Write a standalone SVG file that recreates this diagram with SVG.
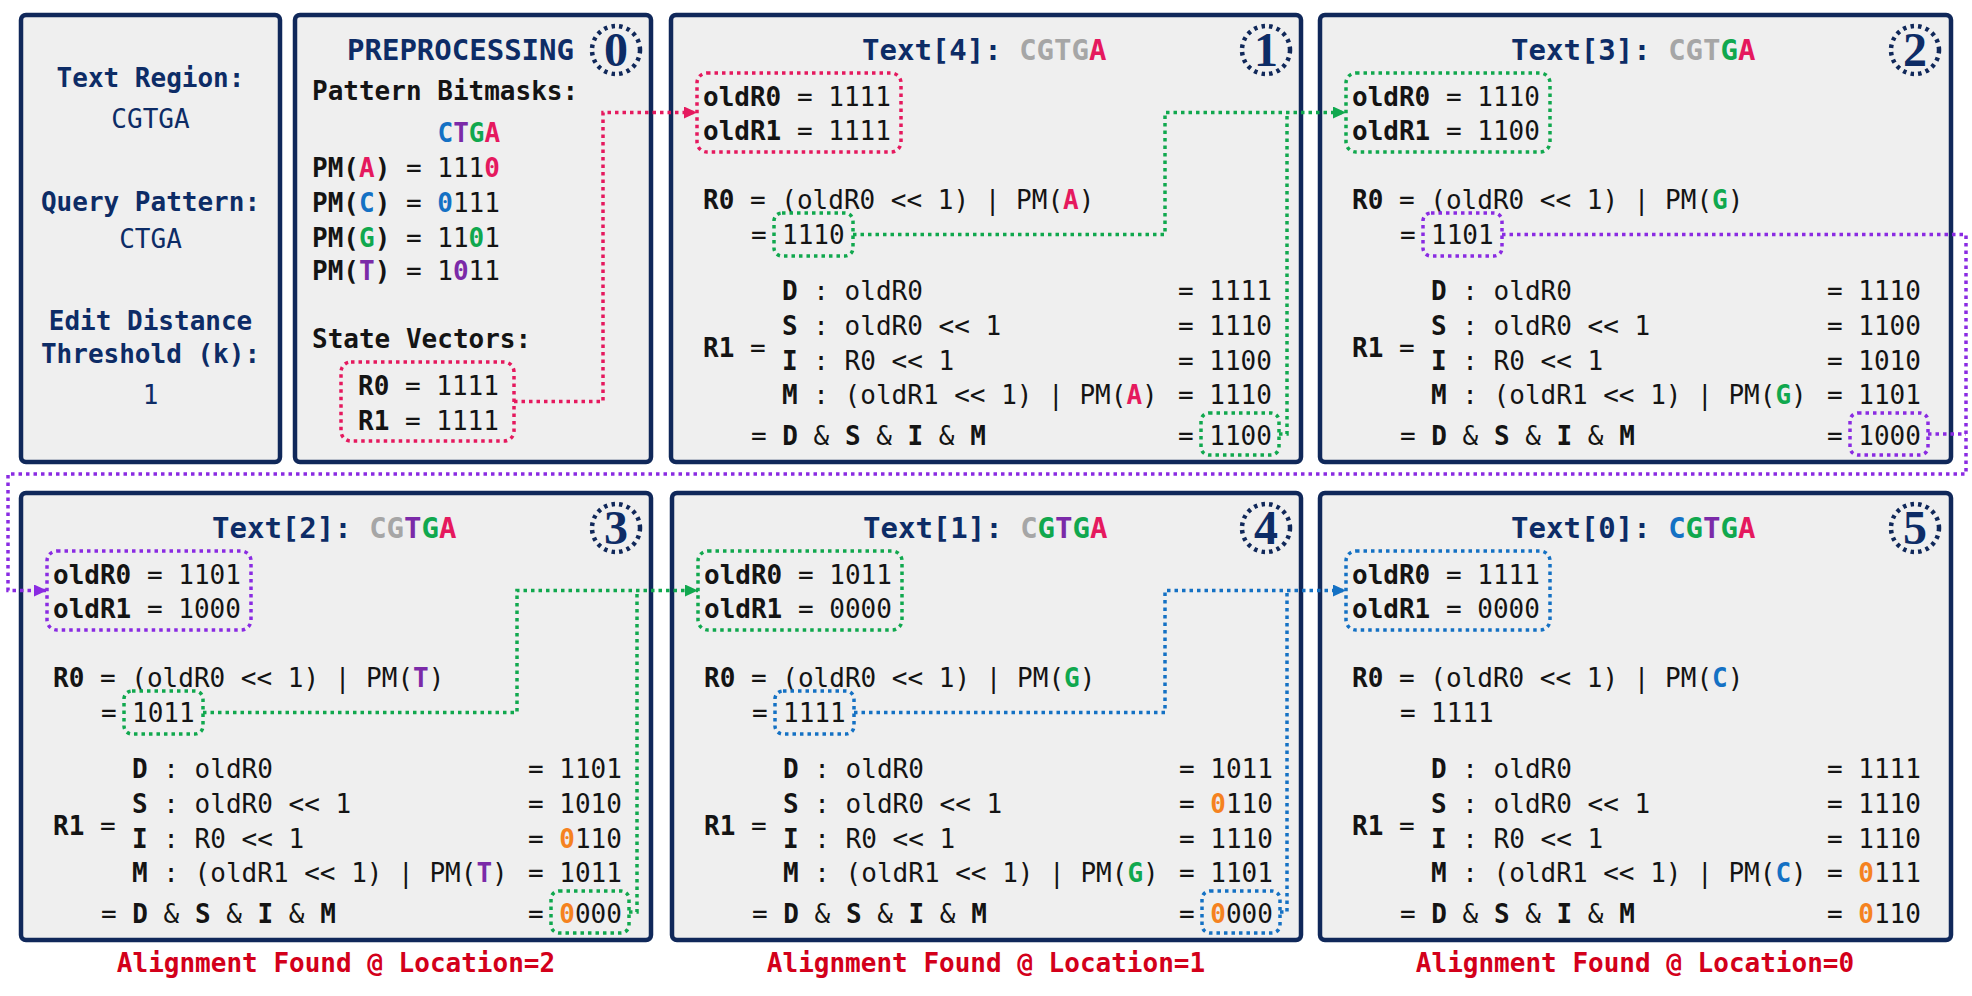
<svg xmlns="http://www.w3.org/2000/svg" width="1972" height="996" viewBox="0 0 1972 996">
<style>
.bg{fill:#ffffff}
.panel{fill:#efefef;stroke:#10285a;stroke-width:4.5}
.t{font-family:"DejaVu Sans Mono","Liberation Mono",monospace;font-size:26px;fill:#141414}
.b{font-weight:bold}
.nv{fill:#0d2c66}
.ttl{font-family:"DejaVu Sans Mono","Liberation Mono",monospace;font-size:29px;font-weight:bold;fill:#0d2c66}
.pk{fill:#e5195e;font-weight:bold}
.bl{fill:#1471c4;font-weight:bold}
.gr{fill:#10a84e;font-weight:bold}
.pu{fill:#7b2aa8;font-weight:bold}
.or{fill:#f5821f;font-weight:bold}
.gy{fill:#a6a6a6}
.red{font-family:"DejaVu Sans Mono","Liberation Mono",monospace;font-size:26px;font-weight:bold;fill:#d3001a}
.dot{fill:none;stroke-width:3.5;stroke-dasharray:3.5 4}
.num{fill:none;stroke:#10285a;stroke-width:4.5;stroke-dasharray:3.5 4.2}
.cn{font-family:"Liberation Serif","DejaVu Serif",serif;font-size:48px;font-weight:bold;fill:#0d2c66;text-anchor:middle}
.spk{stroke:#e5195e}
.sgr{stroke:#10a84e}
.spu{stroke:#8a2be2}
.sbl{stroke:#1471c4}
.mid{text-anchor:middle}
</style>
<defs>
<marker id="aPk" markerUnits="userSpaceOnUse" markerWidth="13" markerHeight="12" refX="13" refY="6" orient="auto"><path d="M0,0 L13,6 L0,12 z" fill="#e5195e"/></marker>
<marker id="aGr" markerUnits="userSpaceOnUse" markerWidth="13" markerHeight="12" refX="13" refY="6" orient="auto"><path d="M0,0 L13,6 L0,12 z" fill="#10a84e"/></marker>
<marker id="aPu" markerUnits="userSpaceOnUse" markerWidth="13" markerHeight="12" refX="13" refY="6" orient="auto"><path d="M0,0 L13,6 L0,12 z" fill="#8a2be2"/></marker>
<marker id="aBl" markerUnits="userSpaceOnUse" markerWidth="13" markerHeight="12" refX="13" refY="6" orient="auto"><path d="M0,0 L13,6 L0,12 z" fill="#1471c4"/></marker>
</defs>
<rect class="bg" x="0" y="0" width="1972" height="996"/>

<g id="info">
<rect class="panel" x="21" y="15" width="259" height="447" rx="5"/>
<text class="t nv b mid" x="150.5" y="87">Text Region:</text>
<text class="t nv mid" x="150.5" y="128">CGTGA</text>
<text class="t nv b mid" x="150.5" y="211">Query Pattern:</text>
<text class="t nv mid" x="150.5" y="248">CTGA</text>
<text class="t nv b mid" x="150.5" y="330">Edit Distance</text>
<text class="t nv b mid" x="150.5" y="363">Threshold (k):</text>
<text class="t nv mid" x="150.5" y="404">1</text>
</g>

<g id="step0">
<rect class="panel" x="295" y="15" width="356" height="447" rx="5"/>
<text class="ttl" x="347" y="60">PREPROCESSING</text>
<circle class="num" cx="616" cy="50" r="24"/>
<text class="cn" x="616" y="66">0</text>
<text class="t b" x="312" y="100">Pattern Bitmasks:</text>
<text class="t b" x="437.5" y="142"><tspan class="bl">C</tspan><tspan class="pu">T</tspan><tspan class="gr">G</tspan><tspan class="pk">A</tspan></text>
<text class="t" x="312" y="177"><tspan class="b">PM(</tspan><tspan class="pk">A</tspan><tspan class="b">)</tspan> = 111<tspan class="pk">0</tspan></text>
<text class="t" x="312" y="212"><tspan class="b">PM(</tspan><tspan class="bl">C</tspan><tspan class="b">)</tspan> = <tspan class="bl">0</tspan>111</text>
<text class="t" x="312" y="246.5"><tspan class="b">PM(</tspan><tspan class="gr">G</tspan><tspan class="b">)</tspan> = 11<tspan class="gr">0</tspan>1</text>
<text class="t" x="312" y="280"><tspan class="b">PM(</tspan><tspan class="pu">T</tspan><tspan class="b">)</tspan> = 1<tspan class="pu">0</tspan>11</text>
<text class="t b" x="312" y="348">State Vectors:</text>
<rect class="dot spk" x="341" y="362" width="173" height="79" rx="10"/>
<text class="t" x="358" y="394.5"><tspan class="b">R0</tspan> = 1111</text>
<text class="t" x="358" y="429.5"><tspan class="b">R1</tspan> = 1111</text>
</g>

<g id="step1" transform="translate(671,15)">
<rect class="panel" x="0" y="0" width="630" height="447" rx="5"/>
<text class="ttl" x="191" y="45">Text[4]: <tspan class="gy">CGTG</tspan><tspan class="pk">A</tspan></text>
<circle class="num" cx="595" cy="35" r="24"/>
<text class="cn" x="595" y="51">1</text>
<rect class="dot spk" x="26" y="58" width="204" height="79" rx="10"/>
<text class="t" x="32" y="91"><tspan class="b">oldR0</tspan> = 1111</text>
<text class="t" x="32" y="125"><tspan class="b">oldR1</tspan> = 1111</text>
<text class="t" x="32" y="194"><tspan class="b">R0</tspan> = (oldR0 &lt;&lt; 1) | PM(<tspan class="pk">A</tspan>)</text>
<text class="t" x="80" y="229">=</text><text class="t" x="111" y="229">1110</text>
<rect class="dot sgr" x="103" y="198" width="79" height="43" rx="8"/>
<text class="t" x="111" y="285"><tspan class="b">D</tspan> : oldR0</text><text class="t" x="507" y="285">= 1111</text>
<text class="t" x="111" y="320"><tspan class="b">S</tspan> : oldR0 &lt;&lt; 1</text><text class="t" x="507" y="320">= 1110</text>
<text class="t b" x="32" y="342">R1 <tspan font-weight="normal">=</tspan></text>
<text class="t" x="111" y="355"><tspan class="b">I</tspan> : R0 &lt;&lt; 1</text><text class="t" x="507" y="355">= 1100</text>
<text class="t" x="111" y="389"><tspan class="b">M</tspan> : (oldR1 &lt;&lt; 1) | PM(<tspan class="pk">A</tspan>)</text><text class="t" x="507" y="389">= 1110</text>
<text class="t" x="80" y="430">= <tspan class="b">D</tspan> &amp; <tspan class="b">S</tspan> &amp; <tspan class="b">I</tspan> &amp; <tspan class="b">M</tspan></text><text class="t" x="507" y="430">= 1100</text>
<rect class="dot sgr" x="530" y="398" width="78" height="42" rx="8"/>
</g>

<g id="step2" transform="translate(1320,15)">
<rect class="panel" x="0" y="0" width="631" height="447" rx="5"/>
<text class="ttl" x="191" y="45">Text[3]: <tspan class="gy">CGT</tspan><tspan class="gr">G</tspan><tspan class="pk">A</tspan></text>
<circle class="num" cx="595" cy="35" r="24"/>
<text class="cn" x="595" y="51">2</text>
<rect class="dot sgr" x="26" y="58" width="204" height="79" rx="10"/>
<text class="t" x="32" y="91"><tspan class="b">oldR0</tspan> = 1110</text>
<text class="t" x="32" y="125"><tspan class="b">oldR1</tspan> = 1100</text>
<text class="t" x="32" y="194"><tspan class="b">R0</tspan> = (oldR0 &lt;&lt; 1) | PM(<tspan class="gr">G</tspan>)</text>
<text class="t" x="80" y="229">=</text><text class="t" x="111" y="229">1101</text>
<rect class="dot spu" x="103" y="198" width="79" height="43" rx="8"/>
<text class="t" x="111" y="285"><tspan class="b">D</tspan> : oldR0</text><text class="t" x="507" y="285">= 1110</text>
<text class="t" x="111" y="320"><tspan class="b">S</tspan> : oldR0 &lt;&lt; 1</text><text class="t" x="507" y="320">= 1100</text>
<text class="t b" x="32" y="342">R1 <tspan font-weight="normal">=</tspan></text>
<text class="t" x="111" y="355"><tspan class="b">I</tspan> : R0 &lt;&lt; 1</text><text class="t" x="507" y="355">= 1010</text>
<text class="t" x="111" y="389"><tspan class="b">M</tspan> : (oldR1 &lt;&lt; 1) | PM(<tspan class="gr">G</tspan>)</text><text class="t" x="507" y="389">= 1101</text>
<text class="t" x="80" y="430">= <tspan class="b">D</tspan> &amp; <tspan class="b">S</tspan> &amp; <tspan class="b">I</tspan> &amp; <tspan class="b">M</tspan></text><text class="t" x="507" y="430">= 1000</text>
<rect class="dot spu" x="530" y="398" width="78" height="42" rx="8"/>
</g>

<g id="step3" transform="translate(21,493)">
<rect class="panel" x="0" y="0" width="630" height="447" rx="5"/>
<text class="ttl" x="191" y="45">Text[2]: <tspan class="gy">CG</tspan><tspan class="pu">T</tspan><tspan class="gr">G</tspan><tspan class="pk">A</tspan></text>
<circle class="num" cx="595" cy="35" r="24"/>
<text class="cn" x="595" y="51">3</text>
<rect class="dot spu" x="26" y="58" width="204" height="79" rx="10"/>
<text class="t" x="32" y="91"><tspan class="b">oldR0</tspan> = 1101</text>
<text class="t" x="32" y="125"><tspan class="b">oldR1</tspan> = 1000</text>
<text class="t" x="32" y="194"><tspan class="b">R0</tspan> = (oldR0 &lt;&lt; 1) | PM(<tspan class="pu">T</tspan>)</text>
<text class="t" x="80" y="229">=</text><text class="t" x="111" y="229">1011</text>
<rect class="dot sgr" x="103" y="198" width="79" height="43" rx="8"/>
<text class="t" x="111" y="285"><tspan class="b">D</tspan> : oldR0</text><text class="t" x="507" y="285">= 1101</text>
<text class="t" x="111" y="320"><tspan class="b">S</tspan> : oldR0 &lt;&lt; 1</text><text class="t" x="507" y="320">= 1010</text>
<text class="t b" x="32" y="342">R1 <tspan font-weight="normal">=</tspan></text>
<text class="t" x="111" y="355"><tspan class="b">I</tspan> : R0 &lt;&lt; 1</text><text class="t" x="507" y="355">= <tspan class="or">0</tspan>110</text>
<text class="t" x="111" y="389"><tspan class="b">M</tspan> : (oldR1 &lt;&lt; 1) | PM(<tspan class="pu">T</tspan>)</text><text class="t" x="507" y="389">= 1011</text>
<text class="t" x="80" y="430">= <tspan class="b">D</tspan> &amp; <tspan class="b">S</tspan> &amp; <tspan class="b">I</tspan> &amp; <tspan class="b">M</tspan></text><text class="t" x="507" y="430">= <tspan class="or">0</tspan>000</text>
<rect class="dot sgr" x="530" y="398" width="78" height="42" rx="8"/>
</g>

<g id="step4" transform="translate(672,493)">
<rect class="panel" x="0" y="0" width="629" height="447" rx="5"/>
<text class="ttl" x="191" y="45">Text[1]: <tspan class="gy">C</tspan><tspan class="gr">G</tspan><tspan class="pu">T</tspan><tspan class="gr">G</tspan><tspan class="pk">A</tspan></text>
<circle class="num" cx="594" cy="35" r="24"/>
<text class="cn" x="594" y="51">4</text>
<rect class="dot sgr" x="26" y="58" width="204" height="79" rx="10"/>
<text class="t" x="32" y="91"><tspan class="b">oldR0</tspan> = 1011</text>
<text class="t" x="32" y="125"><tspan class="b">oldR1</tspan> = 0000</text>
<text class="t" x="32" y="194"><tspan class="b">R0</tspan> = (oldR0 &lt;&lt; 1) | PM(<tspan class="gr">G</tspan>)</text>
<text class="t" x="80" y="229">=</text><text class="t" x="111" y="229">1111</text>
<rect class="dot sbl" x="103" y="198" width="79" height="43" rx="8"/>
<text class="t" x="111" y="285"><tspan class="b">D</tspan> : oldR0</text><text class="t" x="507" y="285">= 1011</text>
<text class="t" x="111" y="320"><tspan class="b">S</tspan> : oldR0 &lt;&lt; 1</text><text class="t" x="507" y="320">= <tspan class="or">0</tspan>110</text>
<text class="t b" x="32" y="342">R1 <tspan font-weight="normal">=</tspan></text>
<text class="t" x="111" y="355"><tspan class="b">I</tspan> : R0 &lt;&lt; 1</text><text class="t" x="507" y="355">= 1110</text>
<text class="t" x="111" y="389"><tspan class="b">M</tspan> : (oldR1 &lt;&lt; 1) | PM(<tspan class="gr">G</tspan>)</text><text class="t" x="507" y="389">= 1101</text>
<text class="t" x="80" y="430">= <tspan class="b">D</tspan> &amp; <tspan class="b">S</tspan> &amp; <tspan class="b">I</tspan> &amp; <tspan class="b">M</tspan></text><text class="t" x="507" y="430">= <tspan class="or">0</tspan>000</text>
<rect class="dot sbl" x="530" y="398" width="78" height="42" rx="8"/>
</g>

<g id="step5" transform="translate(1320,493)">
<rect class="panel" x="0" y="0" width="631" height="447" rx="5"/>
<text class="ttl" x="191" y="45">Text[0]: <tspan class="bl">C</tspan><tspan class="gr">G</tspan><tspan class="pu">T</tspan><tspan class="gr">G</tspan><tspan class="pk">A</tspan></text>
<circle class="num" cx="595" cy="35" r="24"/>
<text class="cn" x="595" y="51">5</text>
<rect class="dot sbl" x="26" y="58" width="204" height="79" rx="10"/>
<text class="t" x="32" y="91"><tspan class="b">oldR0</tspan> = 1111</text>
<text class="t" x="32" y="125"><tspan class="b">oldR1</tspan> = 0000</text>
<text class="t" x="32" y="194"><tspan class="b">R0</tspan> = (oldR0 &lt;&lt; 1) | PM(<tspan class="bl">C</tspan>)</text>
<text class="t" x="80" y="229">=</text><text class="t" x="111" y="229">1111</text>
<text class="t" x="111" y="285"><tspan class="b">D</tspan> : oldR0</text><text class="t" x="507" y="285">= 1111</text>
<text class="t" x="111" y="320"><tspan class="b">S</tspan> : oldR0 &lt;&lt; 1</text><text class="t" x="507" y="320">= 1110</text>
<text class="t b" x="32" y="342">R1 <tspan font-weight="normal">=</tspan></text>
<text class="t" x="111" y="355"><tspan class="b">I</tspan> : R0 &lt;&lt; 1</text><text class="t" x="507" y="355">= 1110</text>
<text class="t" x="111" y="389"><tspan class="b">M</tspan> : (oldR1 &lt;&lt; 1) | PM(<tspan class="bl">C</tspan>)</text><text class="t" x="507" y="389">= <tspan class="or">0</tspan>111</text>
<text class="t" x="80" y="430">= <tspan class="b">D</tspan> &amp; <tspan class="b">S</tspan> &amp; <tspan class="b">I</tspan> &amp; <tspan class="b">M</tspan></text><text class="t" x="507" y="430">= <tspan class="or">0</tspan>110</text>
</g>

<g id="results">
<text class="red mid" x="336" y="972">Alignment Found @ Location=2</text>
<text class="red mid" x="986" y="972">Alignment Found @ Location=1</text>
<text class="red mid" x="1635" y="972">Alignment Found @ Location=0</text>
</g>

<g id="connectors">
<path class="dot spk" d="M514,401.5 H603 V112.5 H697" marker-end="url(#aPk)"/>
<path class="dot sgr" d="M853,234.5 H1165 V112.5 H1346" marker-end="url(#aGr)"/>
<path class="dot sgr" d="M1279,434 H1287 V112.5"/>
<path class="dot spu" d="M1502,234.5 H1966 V474 H8 V590.5 H47" marker-end="url(#aPu)"/>
<path class="dot spu" d="M1928,434 H1966"/>
<path class="dot sgr" d="M203,712.5 H517 V590.5 H698" marker-end="url(#aGr)"/>
<path class="dot sgr" d="M629,912 H637 V590.5"/>
<path class="dot sbl" d="M854,712.5 H1165 V590.5 H1346" marker-end="url(#aBl)"/>
<path class="dot sbl" d="M1280,912 H1287 V590.5"/>
</g>
</svg>
